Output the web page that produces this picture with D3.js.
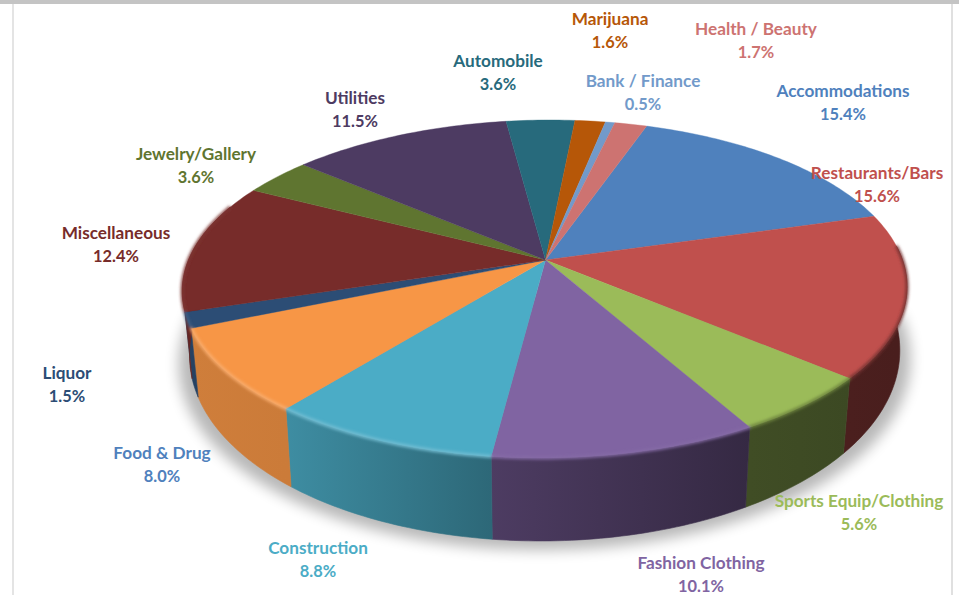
<!DOCTYPE html>
<html>
<head>
<meta charset="utf-8">
<script src="https://cdn.jsdelivr.net/npm/d3@7/dist/d3.min.js"></script>
<style>
  html, body { margin: 0; padding: 0; background: #fff; overflow: hidden; }
  text { font-family: Lato, "Open Sans", sans-serif; font-weight: 700; font-size: 17.2px; text-anchor: middle; }
  .share { font-size: 16.4px; }
</style>
</head>
<body>
<script>
// Share of businesses by category, clockwise from the top of the pie.
const categories = ["Accommodations", "Restaurants/Bars", "Sports Equip/Clothing", "Fashion Clothing",
  "Construction", "Food & Drug", "Liquor", "Miscellaneous", "Jewelry/Gallery", "Utilities",
  "Automobile", "Marijuana", "Bank / Finance", "Health / Beauty"];
const shares = [15.4, 15.6, 5.6, 10.1, 8.8, 8.0, 1.5, 12.4, 3.6, 11.5, 3.6, 1.6, 0.5, 1.7];
const sliceColors = ["#4f81bd", "#c0504d", "#9bbb59", "#8064a2", "#4bacc6", "#f79646", "#2c4d75",
  "#772c2a", "#5f7530", "#4d3b62", "#276a7c", "#b65708", "#729aca", "#cd7371"];
const labelColors = ["#4f81bd", "#c0504d", "#9bbb59", "#8064a2", "#4bacc6", "#4f81bd", "#2c4d75",
  "#772c2a", "#5f7530", "#4d3b62", "#276a7c", "#b65708", "#729aca", "#cd7371"];
// Label anchor: centre x, baseline of the name line.
const labelAnchors = [[843, 97], [877, 179], [859, 507], [701, 569], [318, 554], [162, 459], [67, 379],
  [116, 239], [196, 160], [355, 104], [498, 67], [610, 25], [643, 87], [756, 35]];

const width = 959, height = 595;
const svg = d3.select("body").append("svg").attr("width", width).attr("height", height);
const defs = svg.append("defs");
defs.append("filter").attr("id", "shadowBlur").attr("filterUnits", "userSpaceOnUse")
  .attr("x", 0).attr("y", 0).attr("width", width).attr("height", height)
  .append("feGaussianBlur").attr("stdDeviation", 7);
defs.append("filter").attr("id", "rimBlur").attr("filterUnits", "userSpaceOnUse")
  .attr("x", 0).attr("y", 0).attr("width", width).attr("height", height)
  .append("feGaussianBlur").attr("stdDeviation", 1.4);

// Page frame
svg.append("rect").attr("width", width).attr("height", 4).attr("fill", "#c4c4c4");
svg.append("rect").attr("x", 12).attr("y", 4).attr("width", 2).attr("height", height).attr("fill", "#e4e4e4");
svg.append("rect").attr("x", 951).attr("y", 4).attr("width", 2).attr("height", height).attr("fill", "#e0e0e0");

// Perspective view of the pie's disc: u runs right, v runs toward the viewer.
const centre = { x: 545.5, y: 260 };
const tilt = -0.1716;
const lean = -5;
const xOf = d3.scaleLinear().domain([-1, 1]).range([-357, 357]);
const yOf = d3.scaleLinear().domain([-1, 1]).range([-164, 164]);
const shrink = 0.98;
const wallHeight = d3.scaleLinear().domain([0, 1]).range([60, 83]);

function topPoint(a) {
  const u = Math.sin(a), v = -Math.cos(a), w = 1 + tilt * v;
  return [centre.x + xOf(u) / w + lean * v, centre.y + yOf(v) / w];
}
function bottomPoint(a) {
  const p = topPoint(a), v = -Math.cos(a);
  return [centre.x + (p[0] - centre.x) * shrink, p[1] + wallHeight(v)];
}
const deg = Math.PI / 180;
const angles = (a0, a1) => {
  const n = Math.max(2, Math.ceil((a1 - a0) / deg));
  return d3.range(n + 1).map(i => a0 + (a1 - a0) * i / n);
};
const path = d3.line();

const pie = d3.pie().sort(null).value(d => d).startAngle(18.3 * deg).endAngle(378.3 * deg);
const slices = pie(shares).map((s, i) => ({ ...s, i, color: sliceColors[i] }));

// Wall brightness falls from the lit left side to the shaded right side.
const wallShade = d3.scaleLinear()
  .domain([90, 130, 150, 186, 218, 247, 275].map(d => d * deg))
  .range([0.38, 0.39, 0.41, 0.6, 0.82, 0.84, 0.84]);
const darken = (c, k) => d3.interpolateRgb("#000", c)(k);
const wallRange = [85 * deg, 290 * deg];

// Soft shadow on the page under the front of the pie
const front = angles(85 * deg, 285 * deg);
svg.append("path")
  .attr("d", path(front.map(a => {
    const p = bottomPoint(a);
    return [centre.x + (p[0] - centre.x) * 1.03, p[1] + 9];
  })) + "Z")
  .attr("fill", "#000").attr("opacity", 0.28).attr("filter", "url(#shadowBlur)");

// Side walls, each shaded along its own arc
const walls = slices.map(s => {
  const a0 = Math.max(s.startAngle, wallRange[0]), a1 = Math.min(s.endAngle, wallRange[1]);
  return a1 > a0 ? { ...s, a0, a1 } : null;
}).filter(Boolean);
walls.forEach(s => {
  const x0 = topPoint(s.a0)[0], x1 = topPoint(s.a1)[0];
  const grad = defs.append("linearGradient").attr("id", "wall" + s.i)
    .attr("gradientUnits", "userSpaceOnUse").attr("x1", x0).attr("x2", x1).attr("y1", 0).attr("y2", 0);
  grad.append("stop").attr("offset", 0).attr("stop-color", darken(s.color, wallShade(s.a0)));
  grad.append("stop").attr("offset", 1).attr("stop-color", darken(s.color, wallShade(s.a1)));
});
svg.append("g").selectAll("path").data(walls).join("path")
  .attr("d", s => {
    const as = angles(s.a0, s.a1);
    return path(as.map(topPoint).concat(as.slice().reverse().map(bottomPoint))) + "Z";
  })
  .attr("fill", s => `url(#wall${s.i})`)
  .attr("stroke", s => `url(#wall${s.i})`).attr("stroke-width", 0.6);

// Top faces
svg.append("g").selectAll("path").data(slices).join("path")
  .attr("d", s => path([[centre.x, centre.y]].concat(angles(s.startAngle, s.endAngle).map(topPoint))) + "Z")
  .attr("fill", s => s.color)
  .attr("stroke", s => s.color).attr("stroke-width", 0.4);

// Bevel along the front rim: shaded toward the right, light toward the left
const bevelTone = d3.scaleLinear()
  .domain([100, 140, 168, 202, 232, 250, 275].map(d => d * deg))
  .range([-0.4, -0.3, 0.04, 0.22, 0.22, 0.1, 0.03]).clamp(true);
svg.append("g").attr("filter", "url(#rimBlur)").selectAll("path").data(walls).join("path")
  .attr("d", s => path(angles(s.a0, s.a1).map(topPoint)))
  .attr("fill", "none").attr("stroke-width", 3)
  .attr("stroke", s => {
    const t = bevelTone((s.a0 + s.a1) / 2);
    return t >= 0 ? d3.interpolateRgb(s.color, "#fff")(t) : d3.interpolateRgb(s.color, "#000")(-t);
  });

// Labels: category name over its share
const labels = svg.append("g").selectAll("text").data(slices).join("text")
  .attr("fill", s => labelColors[s.i])
  .attr("x", s => labelAnchors[s.i][0])
  .attr("y", s => labelAnchors[s.i][1]);
labels.append("tspan").text(s => categories[s.i]);
labels.append("tspan").attr("class", "share").attr("x", s => labelAnchors[s.i][0]).attr("dy", 22.5)
  .text(s => s.data.toFixed(1) + "%");
</script>
</body>
</html>
